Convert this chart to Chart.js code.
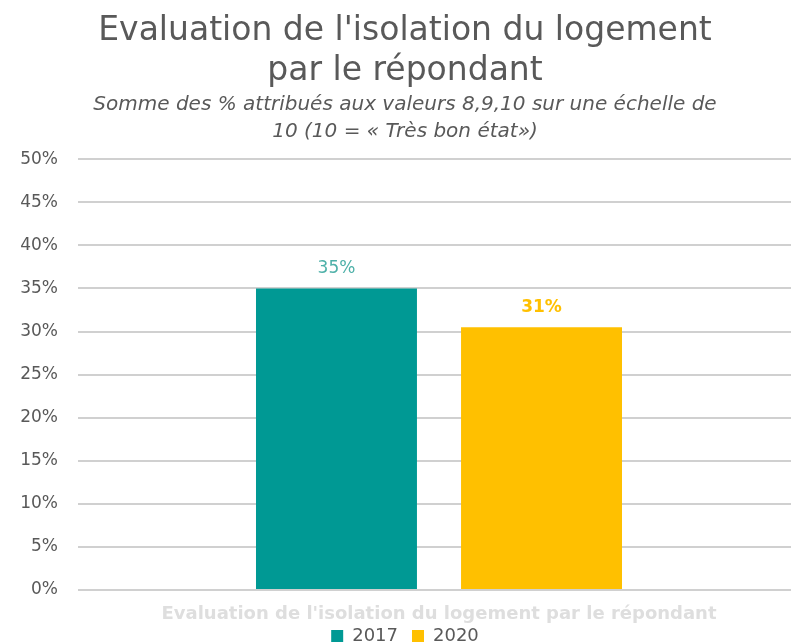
<!DOCTYPE html>
<html><head><meta charset="utf-8">
<script src="https://cdn.jsdelivr.net/npm/chart.js@4/dist/chart.umd.min.js"></script>
<style>html,body{margin:0;padding:0;background:#fff;overflow:hidden}#wrap{width:791px;height:643px;overflow:hidden}</style>
</head><body><div id="wrap"><canvas id="c" width="800" height="643"></canvas></div>
<script>
const categories = ["Evaluation de l'isolation du logement par le répondant"];
const seriesNames = ["2017", "2020"];
const values2017 = [35];
const values2020 = [30.5];
const valueLabels2017 = ["35%"];
const valueLabels2020 = ["31%"];
const yTicks = [0,5,10,15,20,25,30,35,40,45,50];
const titleLines = ["Evaluation de l'isolation du logement", "par le répondant"];
const subtitleLines = ["Somme des % attribués aux valeurs 8,9,10 sur une échelle de", "10 (10 = « Très bon état»)"];

const FONT = "'DejaVu Sans', sans-serif";
const colors = ["#009994", "#FFC000"];
const labelColors = ["#4DB0A8", "#FFC000"];
const labelArrays = [valueLabels2017, valueLabels2020];

const dataLabelPlugin = {
  id: 'dl',
  afterLayout(chart) {
    // let the category label spill below its box without being clipped
    const x = chart.scales.x;
    x.bottom = chart.height;
  },
  afterDatasetsDraw(chart) {
    const ctx = chart.ctx;
    chart.data.datasets.forEach((ds, i) => {
      const meta = chart.getDatasetMeta(i);
      meta.data.forEach((bar, j) => {
        ctx.save();
        ctx.font = (i === 1 ? "bold " : "") + "17px " + FONT;
        ctx.fillStyle = labelColors[i];
        ctx.textAlign = 'center';
        ctx.textBaseline = 'middle';
        ctx.fillText(labelArrays[i][j], bar.x, bar.y - 20);
        ctx.restore();
      });
    });
  }
};

new Chart(document.getElementById('c'), {
  type: 'bar',
  data: {
    labels: categories,
    datasets: [
      { label: seriesNames[0], data: values2017, backgroundColor: colors[0] },
      { label: seriesNames[1], data: values2020, backgroundColor: colors[1] }
    ]
  },
  options: {
    responsive: false,
    animation: false,
    devicePixelRatio: 1,
    categoryPercentage: 0.568,
    barPercentage: 0.785,
    layout: { padding: { left: 10, right: 0, top: 12, bottom: 0 } },
    plugins: {
      title: { display: true, text: titleLines, color: '#595959', font: { family: FONT, size: 33, weight: 'normal', lineHeight: 1.2 }, padding: { top: 0, bottom: 0 } },
      subtitle: { display: true, text: subtitleLines, color: '#595959', font: { family: FONT, size: 20, style: 'italic', lineHeight: 1.35 }, padding: { top: 0, bottom: 14 } },
      legend: { position: 'bottom', maxHeight: 30, labels: { color: '#595959', font: { family: FONT, size: 18, lineHeight: '12px' }, boxWidth: 12, boxHeight: 12, padding: 14 } },
      tooltip: { enabled: false }
    },
    scales: {
      x: {
        grid: { display: false, drawTicks: false },
        border: { display: false },
        ticks: { color: '#dedede', font: { family: FONT, size: 18, weight: 'bold' }, padding: 14 },
        afterFit(scale) { scale.height = 23; }
      },
      y: {
        min: 0, max: 50,
        afterBuildTicks(axis) { axis.ticks = yTicks.map(v => ({ value: v })); },
        grid: { color: '#d0d0d0', lineWidth: 2, drawTicks: false },
        border: { display: false },
        ticks: { color: '#595959', font: { family: FONT, size: 17 }, padding: 20, callback: v => v + '%' },
        afterFit(scale) { scale.width = 68; }
      }
    }
  },
  plugins: [dataLabelPlugin]
});
</script></body></html>
